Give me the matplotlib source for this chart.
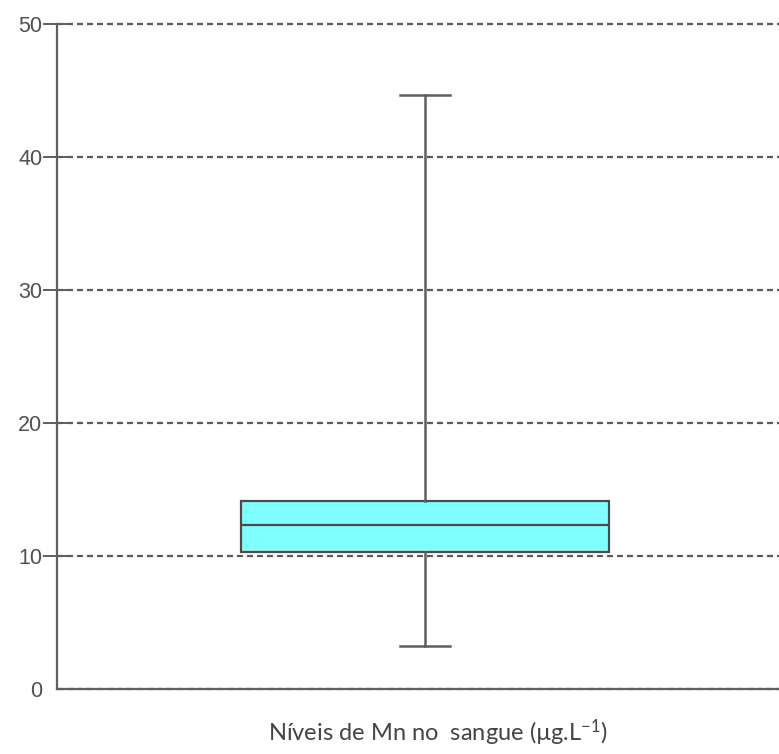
import matplotlib
matplotlib.use('Agg')
import matplotlib.pyplot as plt

# box statistics (ug/L)
median = 12.3
q1 = 10.26
q3 = 14.16
whisker_low = 3.26
whisker_high = 44.6
y_ticks = [0, 10, 20, 30, 40, 50]
x_label = 'Níveis de Mn no  sangue (µg.L$^{-1}$)'

plt.rcParams['mathtext.fontset'] = 'custom'
plt.rcParams['mathtext.rm'] = 'Lato'
plt.rcParams['mathtext.it'] = 'Lato:italic'

gray = '#5f5f5f'

fig = plt.figure(figsize=(7.79, 7.54), dpi=100)
ax = fig.add_axes([57 / 779, 1 - 689 / 754, 1 - 57 / 779, (689 - 23.5) / 754])

stats = [{'med': median, 'q1': q1, 'q3': q3,
          'whislo': whisker_low, 'whishi': whisker_high, 'fliers': []}]
ax.bxp(stats, positions=[0.5097], widths=0.51, capwidths=0.0706,
       patch_artist=True, showfliers=False,
       boxprops=dict(facecolor='#80ffff', edgecolor='#4a4a4a', linewidth=1.6),
       medianprops=dict(color='#4a4a4a', linewidth=1.6),
       whiskerprops=dict(color=gray, linewidth=1.8),
       capprops=dict(color=gray, linewidth=1.8))

ax.set_xlim(0, 1)
ax.set_ylim(0, 50)
ax.set_yticks(y_ticks)
ax.set_xticks([])

# dashed horizontal grid
ax.set_axisbelow(True)
ax.yaxis.grid(True, color='#5a5a5a', linewidth=1.6, linestyle=(0, (2.7, 1.8)))
for line in ax.get_ygridlines():
    line.set_clip_on(False)

for side in ['top', 'right']:
    ax.spines[side].set_visible(False)
for side in ['left', 'bottom']:
    ax.spines[side].set_color(gray)
    ax.spines[side].set_linewidth(1.6)

ax.tick_params(axis='y', direction='inout', length=20, width=1.4, color=gray,
               pad=0.5, labelsize=15.5, labelcolor='#505050')
for label in ax.get_yticklabels():
    label.set_family('Liberation Sans')
ax.yaxis.get_major_ticks()[0].tick1line.set_visible(False)

ax.set_xlabel(x_label, family='Lato', fontsize=17, color='#444444')
ax.xaxis.set_label_coords((438 - 57) / 722, -0.043)

fig.savefig('out.png', dpi=100)
